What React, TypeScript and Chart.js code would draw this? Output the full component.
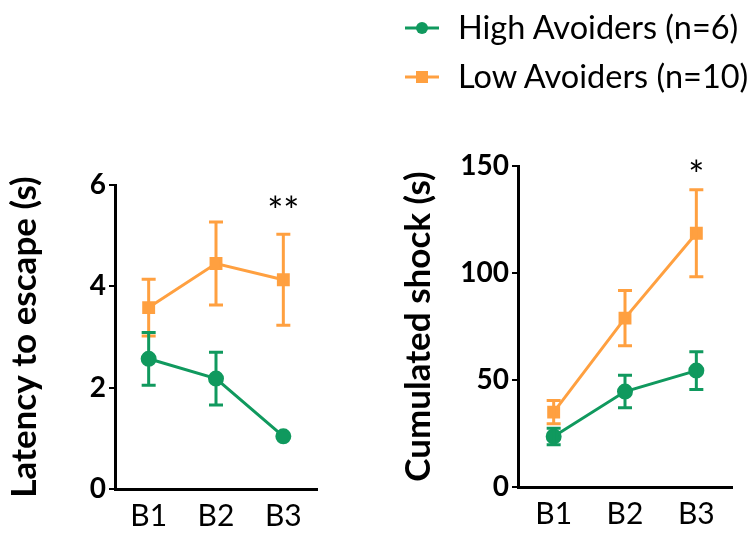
import React, { useEffect, useRef } from "react";
import { Chart, registerables } from "chart.js";

Chart.register(...registerables);

const categories = ["B1", "B2", "B3"];
const seriesNames = ["High Avoiders (n=6)", "Low Avoiders (n=10)"];

const latencyHigh = [2.57, 2.18, 1.04];
const latencyHighErr = [0.52, 0.52, 0.0];
const latencyLow = [3.58, 4.45, 4.13];
const latencyLowErr = [0.56, 0.82, 0.9];

const shockHigh = [23.6, 44.6, 54.4];
const shockHighErr = [3.9, 7.6, 8.8];
const shockLow = [35.0, 78.9, 118.6];
const shockLowErr = [5.4, 12.9, 20.3];

const latencyTicks = [0, 2, 4, 6];
const shockTicks = [0, 50, 100, 150];

const GREEN = "#10995e";
const ORANGE = "#ffa040";
const FONT = "Lato, 'Open Sans', sans-serif";

type PanelProps = {
  left: number;
  width: number;
  high: number[];
  highErr: number[];
  low: number[];
  lowErr: number[];
  ticks: number[];
  yTitle: string;
  yWidth: number;
  padRight: number;
  padTop: number;
  xHeight: number;
  star: string;
  starValue: number;
  titlePad: number;
};

const errorBarPlugin = {
  id: "errorBars",
  afterDatasetsDraw(chart: any) {
    const ctx = chart.ctx;
    const yScale = chart.scales.y;
    const xScale = chart.scales.x;
    chart.data.datasets.forEach((ds: any) => {
      const errs: number[] = ds.errors || [];
      ctx.save();
      ctx.strokeStyle = ds.borderColor;
      ctx.lineWidth = 3;
      ds.data.forEach((v: number, i: number) => {
        const e = errs[i];
        if (!e) return;
        const x = xScale.getPixelForValue(i);
        const yt = yScale.getPixelForValue(v + e);
        const yb = yScale.getPixelForValue(v - e);
        ctx.beginPath();
        ctx.moveTo(x, yt);
        ctx.lineTo(x, yb);
        ctx.moveTo(x - 7, yt);
        ctx.lineTo(x + 7, yt);
        ctx.moveTo(x - 7, yb);
        ctx.lineTo(x + 7, yb);
        ctx.stroke();
      });
      ctx.restore();
    });
    const opts = chart.options.plugins.star;
    if (opts && opts.text) {
      ctx.save();
      ctx.fillStyle = "#000";
      ctx.font = `38px ${FONT}`;
      ctx.textAlign = "center";
      ctx.textBaseline = "middle";
      const x = xScale.getPixelForValue(2);
      const y = yScale.getPixelForValue(opts.value);
      ctx.fillText(opts.text, x, y);
      ctx.restore();
    }
  },
};

function Panel(p: PanelProps) {
  const ref = useRef<HTMLCanvasElement | null>(null);
  useEffect(() => {
    if (!ref.current) return;
    const chart = new Chart(ref.current, {
      type: "line",
      data: {
        labels: categories,
        datasets: [
          {
            label: seriesNames[1],
            data: p.low,
            errors: p.lowErr,
            borderColor: ORANGE,
            backgroundColor: ORANGE,
            borderWidth: 3,
            pointStyle: "rect",
            pointRadius: 7,
            pointHoverRadius: 7,
          } as any,
          {
            label: seriesNames[0],
            data: p.high,
            errors: p.highErr,
            borderColor: GREEN,
            backgroundColor: GREEN,
            borderWidth: 3,
            pointStyle: "circle",
            pointRadius: 6.5,
            pointHoverRadius: 6.5,
          } as any,
        ],
      },
      options: {
        animation: false,
        responsive: false,
        maintainAspectRatio: false,
        events: [],
        layout: { padding: { left: 0, right: p.padRight, top: p.padTop, bottom: 0 } },
        plugins: {
          legend: { display: false },
          tooltip: { enabled: false },
          star: { text: p.star, value: p.starValue },
        } as any,
        scales: {
          x: {
            offset: true,
            afterFit: (s: any) => {
              s.height = p.xHeight;
            },
            grid: { display: false, drawTicks: false },
            border: { display: true, color: "#000", width: 3 },
            ticks: {
              color: "#000",
              font: { family: FONT, size: 30 },
              padding: 9,
            },
          },
          y: {
            min: p.ticks[0],
            max: p.ticks[p.ticks.length - 1],
            afterFit: (s: any) => {
              s.width = p.yWidth;
            },
            afterBuildTicks: (s: any) => {
              s.ticks = p.ticks.map((v) => ({ value: v }));
            },
            grid: {
              display: true,
              drawOnChartArea: false,
              drawTicks: true,
              tickLength: 6,
              color: "#000",
              lineWidth: 2,
            },
            border: { display: true, color: "#000", width: 3 },
            ticks: {
              color: "#000",
              font: { family: FONT, size: 28, weight: "bold" },
              padding: 3,
            },
            title: {
              display: true,
              text: p.yTitle,
              color: "#000",
              font: { family: FONT, size: 35, weight: "bold" },
              padding: { top: p.titlePad, bottom: 0 },
            },
          },
        },
      } as any,
      plugins: [errorBarPlugin],
    });
    return () => chart.destroy();
  }, []);
  return (
    <canvas
      ref={ref}
      width={p.width}
      height={533}
      style={{ position: "absolute", left: p.left, top: 0, width: p.width, height: 533 }}
    />
  );
}

function LegendMarker({ color, shape }: { color: string; shape: "circle" | "rect" }) {
  return (
    <svg width={36} height={16} style={{ position: "absolute", left: 0, top: 0 }}>
      <line x1={1} y1={8} x2={35} y2={8} stroke={color} strokeWidth={3} />
      {shape === "circle" ? (
        <circle cx={18} cy={8} r={6} fill={color} />
      ) : (
        <rect x={12} y={2} width={12} height={12} fill={color} />
      )}
    </svg>
  );
}

export default function App() {
  return (
    <div
      style={{
        position: "fixed",
        left: 0,
        top: 0,
        width: 751,
        height: 533,
        background: "#fff",
        overflow: "hidden",
      }}
    >
      <Panel
        left={0}
        width={375}
        high={latencyHigh}
        highErr={latencyHighErr}
        low={latencyLow}
        lowErr={latencyLowErr}
        ticks={latencyTicks}
        yTitle="Latency to escape (s)"
        yWidth={115}
        padRight={58}
        padTop={185}
        xHeight={44}
        star="**"
        starValue={5.45}
        titlePad={4}
      />
      <Panel
        left={375}
        width={376}
        high={shockHigh}
        highErr={shockHighErr}
        low={shockLow}
        lowErr={shockLowErr}
        ticks={shockTicks}
        yTitle="Cumulated shock (s)"
        yWidth={143}
        padRight={19}
        padTop={166}
        xHeight={46}
        star="*"
        starValue={145}
        titlePad={23}
      />
      {[
        { name: seriesNames[0], color: GREEN, shape: "circle" as const, top: 20 },
        { name: seriesNames[1], color: ORANGE, shape: "rect" as const, top: 69 },
      ].map((it) => (
        <div key={it.name} style={{ position: "absolute", left: 404, top: it.top, height: 30 }}>
          <div style={{ position: "absolute", left: 0, top: 0 }}>
            <LegendMarker color={it.color} shape={it.shape} />
          </div>
          <span
            style={{
              position: "absolute",
              left: 54,
              top: -13,
              whiteSpace: "nowrap",
              fontFamily: FONT,
              fontSize: 32.5,
              lineHeight: "40px",
              color: "#000",
            }}
          >
            {it.name}
          </span>
        </div>
      ))}
    </div>
  );
}
